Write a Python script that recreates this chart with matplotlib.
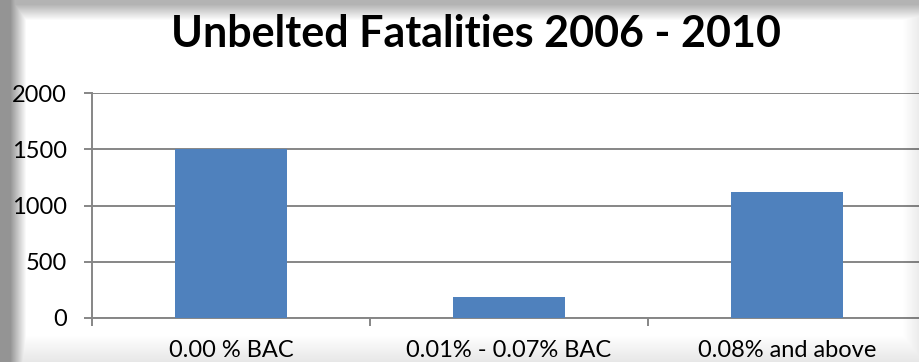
import matplotlib
matplotlib.use("Agg")
import matplotlib.pyplot as plt
import numpy as np

# Unbelted fatalities by blood alcohol level, 2006 - 2010
categories = ["0.00 % BAC", "0.01% - 0.07% BAC", "0.08% and above"]
fatalities = [1500, 190, 1120]
y_ticks = [0, 500, 1000, 1500, 2000]

BAR_COLOR = "#4F81BD"
GRID_COLOR = "#868686"

plt.rcParams["font.family"] = ["Lato", "DejaVu Sans"]

fig = plt.figure(figsize=(9.19, 3.62), dpi=100)
fig.patch.set_facecolor("white")

ax = fig.add_axes([92 / 919, 44 / 362, 834 / 919, 225 / 362])
x = np.arange(len(categories))
ax.bar(x, fatalities, width=0.4, color=BAR_COLOR, zorder=3)

ax.set_xlim(-0.5, len(categories) - 0.5)
ax.set_ylim(0, 2000)
ax.set_yticks(y_ticks)
ax.set_yticklabels([str(v) for v in y_ticks], fontsize=17)
ax.set_xticks(x)
ax.set_xticklabels(categories, fontsize=17)
ax.set_xticks(np.arange(len(categories) + 1) - 0.5, minor=True)

ax.yaxis.grid(True, color=GRID_COLOR, linewidth=1.4, zorder=0)
ax.set_axisbelow(True)
for side in ("top", "right"):
    ax.spines[side].set_visible(False)
for side in ("left", "bottom"):
    ax.spines[side].set_color(GRID_COLOR)
    ax.spines[side].set_linewidth(1.4)

ax.tick_params(axis="y", direction="out", length=6, width=1.4, color=GRID_COLOR, pad=12)
ax.tick_params(axis="x", which="major", length=0, pad=16)
ax.tick_params(axis="x", which="minor", direction="out", length=6, width=1.4, color=GRID_COLOR)

fig.text(476 / 919, 1 - 47 / 362, "Unbelted Fatalities 2006 - 2010",
         ha="center", va="baseline", fontsize=31, fontweight="bold")

# soft gray frame around the chart area
H, W = 362, 919
yy, xx = np.mgrid[0:H, 0:W].astype(float)
shade = np.maximum.reduce([
    0.42 * np.clip((26 - xx) / 16, 0, 1),
    0.30 * np.clip((20 - yy) / 16, 0, 1),
    0.10 * np.clip((yy - 334) / 28, 0, 1),
    0.08 * np.clip((xx - 902) / 17, 0, 1),
])
overlay = np.zeros((H, W, 4))
overlay[..., 3] = shade
frame = fig.add_axes([0, 0, 1, 1], zorder=10)
frame.imshow(overlay, aspect="auto", interpolation="bilinear")
frame.axis("off")

fig.savefig("out.png", dpi=100)
